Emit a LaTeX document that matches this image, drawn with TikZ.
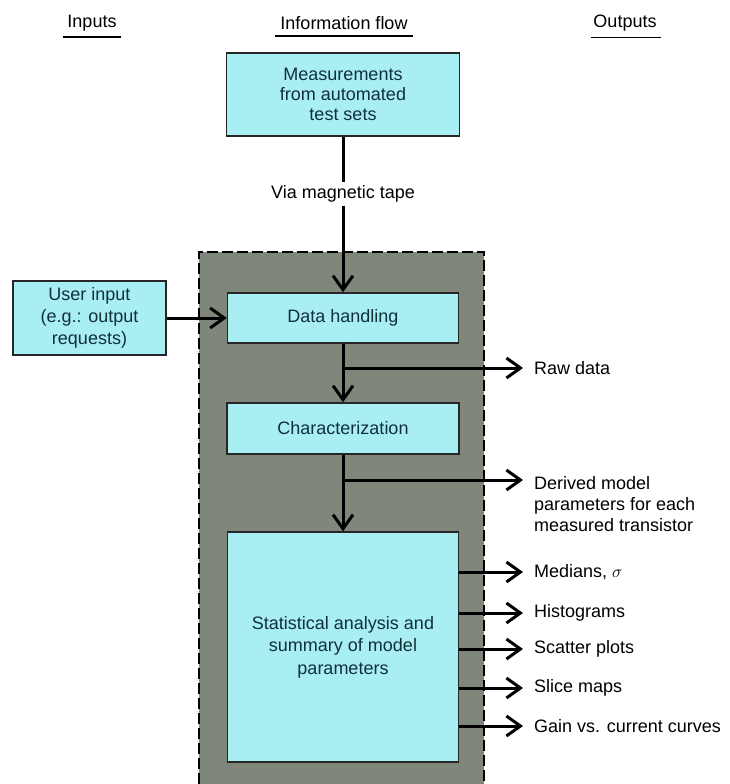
\documentclass[tikz,border=0pt]{standalone}
\usepackage{fontspec}
\setmainfont{Liberation Sans}
\usetikzlibrary{arrows.meta}
\definecolor{boxfill}{HTML}{A8EEF2}
\definecolor{panel}{HTML}{7E877A}
\definecolor{boxtext}{HTML}{10303A}
\begin{document}
\begin{tikzpicture}[x=1pt,y=-1pt,
  font=\fontsize{18}{21}\selectfont,
  box/.style={draw=black!85, line width=1.5pt, fill=boxfill, text=boxtext, align=center, inner sep=0pt},
  header/.style={inner sep=0pt},
  uline/.style={line width=1.6pt},
  outtxt/.style={anchor=west, align=left, inner xsep=11pt, inner ysep=0pt},
  plainline/.style={line width=3pt},
  flow/.style={line width=3pt, -{Straight Barb[length=14pt,width=20pt]}},
  panelborder/.style={line width=2pt, dash pattern=on 11pt off 4pt}
]
\useasboundingbox (0,0) rectangle (730,784);
\fill[white] (0,0) rectangle (730,784);

% shaded processing panel
\fill[panel] (199,252) rectangle (484,784);
\draw[panelborder] (199,784) -- (199,252) -- (484,252) -- (484,784);

% headers
\node[header] (hin) at (92,23) {Inputs};
\node[header] (hflow) at (344,23) {Information flow};
\node[header] (hout) at (625,23) {Outputs};
\draw[uline] ([shift={(-4pt,-6pt)}]hin.south west) -- ([shift={(4pt,-6pt)}]hin.south east);
\draw[uline] ([shift={(-5pt,-6pt)}]hflow.south west) -- ([shift={(5pt,-6pt)}]hflow.south east);
\draw[uline] ([shift={(-2pt,-6pt)}]hout.south west) -- ([shift={(4pt,-6pt)}]hout.south east);

% boxes
\node[box, minimum width=233pt, minimum height=83pt, font=\fontsize{18}{20}\selectfont] (meas) at (343,94.5)
  {Measurements\\from automated\\test sets};
\node[inner sep=3pt, fill=white] (tape) at (343,194) {Via magnetic tape};
\node[box, minimum width=231pt, minimum height=50pt] (dh) at (343,318) {Data handling};
\node[box, minimum width=153pt, minimum height=74pt, font=\fontsize{18}{22}\selectfont] (user) at (89.5,318)
  {User input\\(e.g.: output\\requests)};
\node[box, minimum width=232pt, minimum height=51pt] (char) at (343,428.5) {Characterization};
\node[box, minimum width=231pt, minimum height=230pt, font=\fontsize{18}{22.5}\selectfont] (stats) at (343,647)
  {Statistical analysis and\\summary of model\\parameters};

% output labels
\node[outtxt] (raw) at (523,368) {Raw data};
\node[outtxt] (der) at (523,504) {Derived model\\parameters for each\\measured transistor};
\node[outtxt] (med) at (523,572) {Medians, $\sigma$};
\node[outtxt] (hist) at (523,613) {Histograms};
\node[outtxt] (scat) at (523,649) {Scatter plots};
\node[outtxt] (slice) at (523,688) {Slice maps};
\node[outtxt] (gain) at (523,726) {Gain vs. current curves};

% branch points
\coordinate (b1) at (343,368);
\coordinate (b2) at (343,480);

% connectors
\draw[plainline] (meas.south) -- (tape.north);
\draw[flow] (tape.south) -- (dh.north);
\draw[flow] (user.east) -- (dh.west);
\draw[flow] (dh.south) -- (char.north);
\draw[flow] (b1) -- (raw.west);
\draw[flow] (char.south) -- (stats.north);
\draw[flow] (b2) -- (b2 -| der.west);
\draw[flow] (stats.east |- med.west) -- (med.west);
\draw[flow] (stats.east |- hist.west) -- (hist.west);
\draw[flow] (stats.east |- scat.west) -- (scat.west);
\draw[flow] (stats.east |- slice.west) -- (slice.west);
\draw[flow] (stats.east |- gain.west) -- (gain.west);
\end{tikzpicture}
\end{document}
